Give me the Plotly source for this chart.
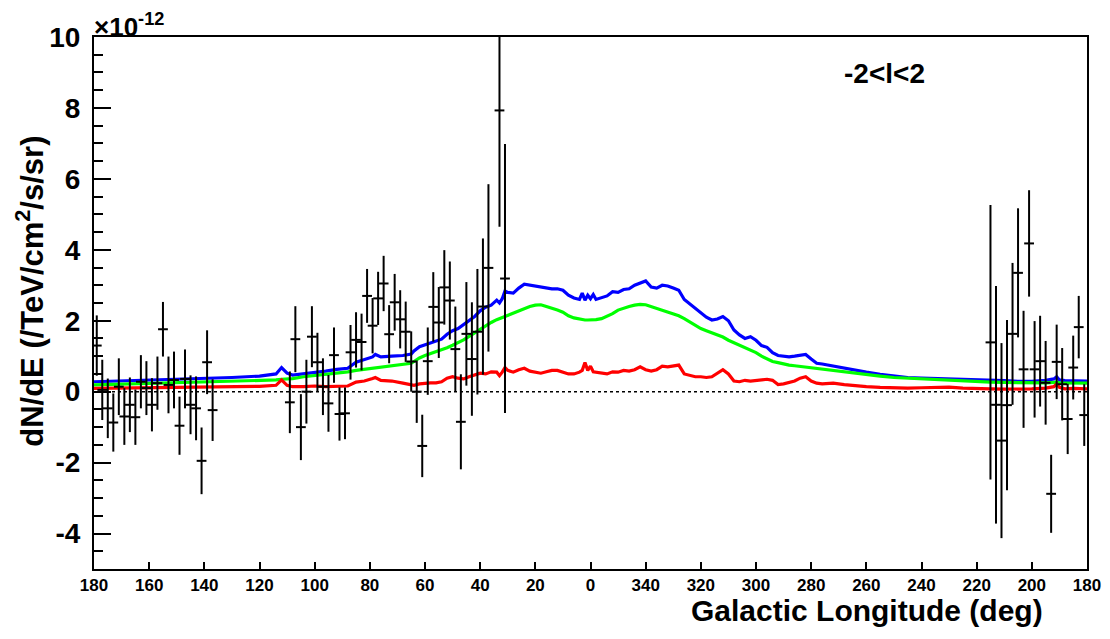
import plotly.graph_objects as go

# ---------------- data (galactic longitude in degrees) ----------------
pt_l = [179, 177, 175, 173, 171, 169, 167, 165, 163, 161, 159, 157, 155, 153, 151, 149, 147, 145,
        143, 141, 139, 137,
        109, 107, 105, 103, 101, 99, 97, 95, 93, 91, 89, 87, 85, 83, 81, 79, 77, 75, 73, 71, 69,
        67, 65, 63, 61, 59, 57, 55, 53, 51, 49, 47, 45, 43, 41, 39, 37, 33, 31,
        215, 213, 211, 209, 207, 205, 203, 201, 199, 197, 195, 193, 191, 189, 187, 185, 183, 181]
pt_val = [1.30, 0.05, -0.47, -0.87, 0.14, -0.70, -0.37, -0.72, 0.28, 0.10, -0.37, 0.24, 1.76, 0.19,
          0.33, -0.96, 0.36, -0.37, -0.47, -1.95, 0.83, -0.52,
          -0.30, 1.48, -1.00, 0.00, 1.55, 0.83, 0.14, -0.33, 1.03, -0.63, -0.61, 1.11, 1.46, 1.40,
          2.70, 1.86, 2.63, 3.05, 1.62, 2.52, 2.04, 1.69, 0.85, 0.00, -1.53, 0.86, 2.39, 1.95,
          2.94, 2.57, 1.20, -0.85, 1.63, 0.92, 1.69, 2.40, 3.49, 7.93, 3.19,
          1.39, -0.37, -1.38, -0.38, 1.63, 3.35, 0.63, 4.18, 0.63, 0.86, 0.25, -2.88, 0.84, 0.21,
          -0.77, 0.68, 1.82, -0.66]
pt_err = [0.85, 0.85, 0.84, 0.82, 0.80, 0.80, 0.77, 0.78, 0.75, 0.76, 0.75, 0.75, 0.77, 0.80,
          0.80, 0.82, 0.83, 0.83, 0.90, 0.94, 0.90, 0.87,
          0.87, 0.93, 0.93, 0.90, 0.86, 0.83, 0.80, 0.80, 0.78, 0.75, 0.73, 0.77, 0.78, 0.80,
          0.76, 0.78, 0.75, 0.78, 0.82, 0.80, 0.82, 0.85, 0.85, 0.88, 0.88, 0.95, 0.98, 1.00,
          1.05, 1.10, 1.20, 1.34, 1.46, 1.60, 1.77, 1.92, 2.36, 3.28, 3.79,
          3.87, 3.35, 2.75, 2.40, 2.00, 1.82, 1.65, 1.50, 1.36, 1.28, 1.18, 1.10, 1.05, 1.02,
          0.99, 0.90, 0.88, 0.87]

# curves: sampled from l=180 down to 0, then from 359 down to 180
curve_l = [180, 170, 160, 150, 140, 130, 120, 114, 112, 110, 108, 104, 100, 96, 92, 88, 85, 82,
           79, 78, 76, 72, 68, 65, 64, 62, 60, 58, 56, 54, 52, 50, 48, 46, 44, 42, 40, 38, 36,
           34, 33, 32, 31, 30, 28, 26, 24, 22, 20, 18, 16, 14, 12, 10, 8, 6, 4, 3, 2, 1, 0,
           359, 358, 356, 354, 352, 350, 348, 346, 344, 342, 340, 338, 336, 334, 332, 330, 328,
           326, 324, 322, 320, 318, 316, 314, 312, 310, 308, 306, 304, 302, 300, 298, 296, 294,
           292, 290, 288, 286, 284, 282, 280, 278, 276, 272, 268, 264, 260, 255, 250, 245, 240,
           235, 230, 225, 220, 215, 210, 205, 200, 195, 192, 191, 190, 188, 185, 180]
blue = [0.28, 0.30, 0.32, 0.34, 0.37, 0.40, 0.44, 0.50, 0.68, 0.52, 0.47, 0.50, 0.55, 0.58, 0.63,
        0.66, 0.83, 0.90, 0.98, 1.05, 0.98, 1.00, 1.02, 1.06, 1.15, 1.27, 1.32, 1.37, 1.41, 1.48,
        1.62, 1.72, 1.78, 1.90, 2.02, 2.12, 2.28, 2.38, 2.44, 2.58, 2.50, 2.62, 2.84, 2.80, 2.78,
        2.92, 3.03, 3.00, 2.97, 2.95, 2.92, 2.90, 2.90, 2.86, 2.72, 2.64, 2.60, 2.78, 2.58, 2.72,
        2.62,
        2.74, 2.60, 2.66, 2.70, 2.82, 2.80, 2.88, 2.90, 3.00, 3.05, 3.12, 2.95, 2.92, 3.00, 2.98,
        2.92, 2.86, 2.60, 2.48, 2.35, 2.22, 2.10, 2.02, 2.05, 2.12, 2.00, 1.74, 1.60, 1.50, 1.55,
        1.45, 1.30, 1.25, 1.10, 1.02, 1.00, 0.98, 1.00, 1.02, 1.05, 0.92, 0.80, 0.78, 0.72, 0.66,
        0.60, 0.55, 0.49, 0.44, 0.40, 0.38, 0.37, 0.37, 0.35, 0.33, 0.32, 0.31, 0.29, 0.29, 0.32,
        0.36, 0.42, 0.33, 0.31, 0.30, 0.30]
green = [0.19, 0.21, 0.23, 0.25, 0.27, 0.29, 0.31, 0.33, 0.35, 0.35, 0.37, 0.42, 0.45, 0.48, 0.52,
         0.56, 0.60, 0.63, 0.66, 0.67, 0.69, 0.73, 0.77, 0.80, 0.85, 0.95, 1.02, 1.07, 1.13, 1.18,
         1.24, 1.31, 1.38, 1.46, 1.56, 1.66, 1.76, 1.86, 1.95, 2.03, 2.06, 2.10, 2.14, 2.17, 2.22,
         2.28, 2.35, 2.40, 2.44, 2.45, 2.40, 2.36, 2.30, 2.24, 2.14, 2.08, 2.04, 2.03, 2.02, 2.02,
         2.02,
         2.02, 2.03, 2.06, 2.12, 2.20, 2.30, 2.36, 2.40, 2.44, 2.46, 2.45, 2.40, 2.36, 2.30, 2.26,
         2.20, 2.14, 2.06, 1.96, 1.86, 1.78, 1.72, 1.66, 1.60, 1.54, 1.45, 1.38, 1.32, 1.26, 1.17,
         1.10, 1.00, 0.92, 0.85, 0.82, 0.78, 0.75, 0.73, 0.71, 0.70, 0.67, 0.65, 0.63, 0.60, 0.56,
         0.52, 0.48, 0.44, 0.40, 0.38, 0.35, 0.33, 0.31, 0.30, 0.29, 0.27, 0.26, 0.25, 0.25, 0.25,
         0.26, 0.27, 0.25, 0.25, 0.24, 0.24]
red = [0.09, 0.10, 0.11, 0.12, 0.13, 0.13, 0.15, 0.18, 0.33, 0.18, 0.14, 0.14, 0.16, 0.14, 0.15,
       0.16, 0.27, 0.30, 0.37, 0.40, 0.32, 0.30, 0.24, 0.20, 0.18, 0.22, 0.24, 0.25, 0.25, 0.28,
       0.38, 0.42, 0.38, 0.36, 0.42, 0.48, 0.52, 0.50, 0.56, 0.55, 0.45, 0.55, 0.68, 0.60, 0.55,
       0.62, 0.66, 0.58, 0.55, 0.52, 0.56, 0.60, 0.60, 0.55, 0.50, 0.50, 0.55, 0.60, 0.82, 0.60,
       0.72,
       0.56, 0.55, 0.52, 0.50, 0.56, 0.55, 0.60, 0.58, 0.62, 0.70, 0.62, 0.58, 0.62, 0.72, 0.70,
       0.72, 0.75, 0.50, 0.45, 0.42, 0.42, 0.40, 0.42, 0.52, 0.62, 0.50, 0.30, 0.28, 0.32, 0.30,
       0.32, 0.33, 0.35, 0.32, 0.20, 0.22, 0.25, 0.30, 0.38, 0.42, 0.30, 0.24, 0.22, 0.24, 0.20,
       0.16, 0.14, 0.12, 0.10, 0.10, 0.11, 0.12, 0.13, 0.10, 0.08, 0.08, 0.07, 0.07, 0.08, 0.10,
       0.14, 0.22, 0.12, 0.08, 0.09, 0.08]

x_tick_deg = [180, 160, 140, 120, 100, 80, 60, 40, 20, 0, 340, 320, 300, 280, 260, 240, 220, 200, 180]
y_tick_vals = [-4, -2, 0, 2, 4, 6, 8, 10]


def to_axis(l):
    """Map a galactic longitude onto the continuous axis (180 ... 0 ... -180)."""
    return l if l < 180 else l - 360


def sequence_to_axis(ls):
    """Map an ordered walk 180 -> 0 -> 359 -> 180 onto the continuous axis."""
    out, wrapped, prev = [], False, None
    for v in ls:
        if prev is not None and v > prev:
            wrapped = True
        out.append(v - 360 if wrapped else v)
        prev = v
    return out


pt_x = [to_axis(v) for v in pt_l]
curve_x = sequence_to_axis(curve_l)
tickvals = [180 - 20 * i for i in range(len(x_tick_deg))]

FONT = "Liberation Sans, Arial, sans-serif"
OFF = 8  # page body margin in the browser
W, H = 1110 - OFF, 639 - OFF

fig = go.Figure()
for vals, col in [(blue, "#0000ff"), (green, "#00ff00"), (red, "#ff0000")]:
    fig.add_trace(go.Scatter(x=curve_x, y=vals, mode="lines",
                             line=dict(color=col, width=3.2), showlegend=False))

fig.add_trace(go.Scatter(
    x=pt_x, y=pt_val, mode="markers",
    marker=dict(symbol="line-ew", size=7, color="black", line=dict(color="black", width=2)),
    error_y=dict(type="data", array=pt_err, visible=True, color="black", thickness=2, width=0),
    showlegend=False))

fig.add_shape(type="line", xref="paper", x0=0, x1=1, yref="y", y0=0, y1=0,
              line=dict(color="black", width=1.5, dash="dot"))

fig.update_layout(
    width=W, height=H,
    margin=dict(l=94 - OFF, r=23, t=37 - OFF, b=70, autoexpand=False),
    paper_bgcolor="white", plot_bgcolor="white",
    font=dict(family=FONT, color="black"),
    xaxis=dict(range=[180, -180], tickvals=tickvals, ticktext=[str(v) for v in x_tick_deg],
               ticks="inside", ticklen=7, tickwidth=1.5, tickcolor="black",
               showline=True, mirror=True, linecolor="black", linewidth=2,
               showgrid=False, zeroline=False,
               tickfont=dict(family=FONT, size=17, weight="bold", color="black")),
    yaxis=dict(range=[-5, 10], tickvals=y_tick_vals, ticktext=[str(v) for v in y_tick_vals],
               ticks="inside", ticklen=17, tickwidth=1.5, tickcolor="black",
               ticklabelstandoff=6,
               minor=dict(dtick=0.5, tick0=0, ticks="inside", ticklen=9, tickwidth=1.5,
                          tickcolor="black", showgrid=False),
               showline=True, mirror=True, linecolor="black", linewidth=2,
               showgrid=False, zeroline=False,
               tickfont=dict(family=FONT, size=28, weight="bold", color="black")),
)

fig.add_annotation(text="Galactic Longitude (deg)", xref="paper", yref="paper",
                   x=0.958, y=-0.078, xanchor="right", yanchor="middle", showarrow=False,
                   font=dict(family=FONT, size=30, weight="bold", color="black"))
fig.add_annotation(text="dN/dE (/TeV/cm<sup>2</sup>/s/sr)", xref="paper", yref="paper",
                   x=-0.064, y=0.818, xanchor="center", yanchor="top", textangle=-90,
                   showarrow=False,
                   font=dict(family=FONT, size=31, weight="bold", color="black"))
fig.add_annotation(text="×10<sup>-12</sup>", xref="paper", yref="paper",
                   x=-0.002, y=1.021, xanchor="left", yanchor="middle", showarrow=False,
                   font=dict(family=FONT, size=26, weight="bold", color="black"))
fig.add_annotation(text="-2&lt;l&lt;2", xref="paper", yref="paper",
                   x=0.753, y=0.932, xanchor="left", yanchor="middle", showarrow=False,
                   font=dict(family=FONT, size=28, weight="bold", color="black"))

fig.write_html("out.html")
